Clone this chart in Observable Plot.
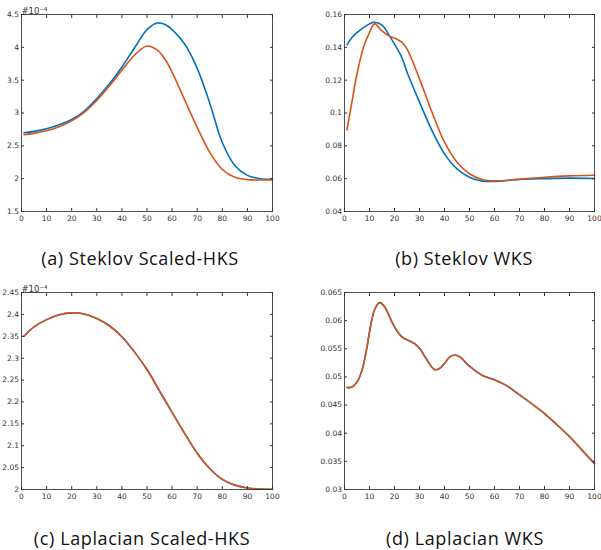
<!DOCTYPE html>
<html><head><meta charset="utf-8">
<script src="https://cdn.jsdelivr.net/npm/d3@7"></script>
<script src="https://cdn.jsdelivr.net/npm/@observablehq/plot@0.6"></script>
<style>
html,body{margin:0;padding:0;background:#fff;overflow:hidden}
#root{position:relative;width:601px;height:550px}
.panel{position:absolute}
.cap{position:absolute;font-family:"Open Sans",Lato,sans-serif;font-size:18px;letter-spacing:0.6px;line-height:20px;color:#111;white-space:nowrap;transform:translateX(-50%)}
</style></head><body><div id="root"></div>
<script>
// ---------- data ----------
const xTicks = [0,10,20,30,40,50,60,70,80,90,100];
const xTickLabels = ["0","10","20","30","40","50","60","70","80","90","100"];
const seriesNames = ["series 1","series 2"];
const seriesColors = ["#0072BD","#D95319"];

// (a) Steklov Scaled-HKS (values x 10^-4)
const aX = [1,5,10,15,20,25,30,35,40,45,50,54,57,60,65,70,75,80,85,90,95,100];
const aBlue = [2.70,2.72,2.76,2.82,2.90,3.03,3.22,3.44,3.70,3.99,4.27,4.37,4.35,4.27,4.05,3.68,3.15,2.55,2.20,2.05,2.00,1.99];
const aOrange = [2.67,2.69,2.73,2.79,2.88,3.01,3.19,3.41,3.65,3.88,4.02,3.96,3.83,3.62,3.20,2.78,2.40,2.14,2.02,1.985,1.98,1.98];
const aYTicks = [1.5,2,2.5,3,3.5,4,4.5];
const aYLabels = ["1.5","2","2.5","3","3.5","4","4.5"];

// (b) Steklov WKS
const bX = [1,3,5,8,10,12,15,18,20,23,25,30,35,40,45,50,55,60,70,80,90,100];
const bBlue = [0.1415,0.146,0.149,0.1525,0.1543,0.1553,0.1535,0.147,0.142,0.1335,0.125,0.1066,0.0893,0.0751,0.066,0.0609,0.0585,0.0583,0.0595,0.060,0.0603,0.0601];
const bOrange = [0.0897,0.107,0.1239,0.142,0.149,0.1543,0.150,0.1468,0.1456,0.143,0.139,0.1208,0.1005,0.0822,0.070,0.063,0.0595,0.0587,0.0597,0.0609,0.0617,0.0621];
const bYTicks = [0.04,0.06,0.08,0.1,0.12,0.14,0.16];
const bYLabels = ["0.04","0.06","0.08","0.1","0.12","0.14","0.16"];

// (c) Laplacian Scaled-HKS (values x 10^-4)
const cX = [1,5,10,15,20,25,30,35,40,45,50,55,60,65,70,75,80,85,90,95,100];
const cBlue = [2.350,2.3715,2.388,2.399,2.4035,2.401,2.3906,2.374,2.349,2.3144,2.274,2.225,2.176,2.128,2.083,2.048,2.023,2.010,2.0035,2.0012,2.0005];
const cOrange = [2.350,2.3715,2.388,2.399,2.4035,2.401,2.3906,2.374,2.349,2.3144,2.274,2.225,2.176,2.128,2.083,2.048,2.023,2.010,2.0035,2.0012,2.0005];
const cYTicks = [2,2.05,2.1,2.15,2.2,2.25,2.3,2.35,2.4,2.45];
const cYLabels = ["2","2.05","2.1","2.15","2.2","2.25","2.3","2.35","2.4","2.45"];

// (d) Laplacian WKS
const dX = [1,3,5,7,9,10,12,14,16,18,20,23,26,28,30,33,36,38,40,42,44,46,50,55,60,65,70,75,80,85,90,95,100];
const dBlue = [0.04812,0.0482,0.0491,0.0512,0.0553,0.0580,0.0619,0.0632,0.0625,0.0607,0.0589,0.0571,0.0564,0.0559,0.0551,0.0530,0.0513,0.0515,0.0524,0.0535,0.0539,0.0536,0.0519,0.0503,0.0495,0.0484,0.0468,0.0452,0.0435,0.0415,0.0394,0.0370,0.0346];
const dOrange = [0.04812,0.0482,0.0491,0.0512,0.0553,0.0580,0.0619,0.0632,0.0625,0.0607,0.0589,0.0571,0.0564,0.0559,0.0551,0.0530,0.0513,0.0515,0.0524,0.0535,0.0539,0.0536,0.0519,0.0503,0.0495,0.0484,0.0468,0.0452,0.0435,0.0415,0.0394,0.0370,0.0346];
const dYTicks = [0.03,0.035,0.04,0.045,0.05,0.055,0.06,0.065];
const dYLabels = ["0.03","0.035","0.04","0.045","0.05","0.055","0.06","0.065"];

const captions = ["(a) Steklov Scaled-HKS","(b) Steklov WKS","(c) Laplacian Scaled-HKS","(d) Laplacian WKS"];
const exponentLabel = "#10\u207B\u2074";

// ---------- drawing ----------
const root = document.getElementById("root");
const FONT = "DejaVu Sans";
const FS = 7.5;

function panel({left, top, width, mLeft, mRight, xs, blue, orange, yTicks, yLabels, exponent}) {
  const rows = [];
  xs.forEach((x, i) => rows.push({x, y: blue[i], s: seriesNames[0]}));
  xs.forEach((x, i) => rows.push({x, y: orange[i], s: seriesNames[1]}));
  const yDomain = [yTicks[0], yTicks[yTicks.length - 1]];
  const yFmt = v => yLabels[yTicks.indexOf(v)] ?? "";
  const xFmt = v => xTickLabels[xTicks.indexOf(v)] ?? "";
  const marks = [
    Plot.line(rows, {x: "x", y: "y", z: "s", stroke: "s", strokeWidth: 1.6, curve: "catmull-rom"}),
    Plot.frame({stroke: "#262626", strokeWidth: 0.8}),
    Plot.axisX({anchor: "bottom", ticks: xTicks, tickSize: -3, tickPadding: 7, tickFormat: xFmt, label: null, fontSize: FS}),
    Plot.axisX({anchor: "top", ticks: xTicks, tickSize: -3, tickFormat: () => "", label: null}),
    Plot.axisY({anchor: "left", ticks: yTicks, tickSize: -3, tickPadding: 5.5, tickFormat: yFmt, label: null, fontSize: FS}),
    Plot.axisY({anchor: "right", ticks: yTicks, tickSize: -3, tickFormat: () => "", label: null})
  ];
  if (exponent) {
    marks.push(Plot.text([exponent], {frameAnchor: "top-left", text: d => d, textAnchor: "start", lineAnchor: "bottom", dy: -1, dx: 0, fontSize: 8.5}));
  }
  const chart = Plot.plot({
    width, height: 230,
    marginLeft: mLeft, marginRight: mRight, marginTop: 14, marginBottom: 19,
    style: {fontFamily: FONT, fontSize: FS + "px", color: "#333", background: "transparent", overflow: "visible"},
    x: {domain: [0, 100]},
    y: {domain: yDomain},
    color: {type: "ordinal", domain: seriesNames, range: seriesColors},
    marks
  });
  chart.classList.add("panel");
  chart.style.left = left + "px";
  chart.style.top = top + "px";
  root.appendChild(chart);
}

panel({left: 0, top: 0, width: 300, mLeft: 21, mRight: 28, xs: aX, blue: aBlue, orange: aOrange, yTicks: aYTicks, yLabels: aYLabels, exponent: exponentLabel});
panel({left: 300, top: 0, width: 301, mLeft: 44, mRight: 7, xs: bX, blue: bBlue, orange: bOrange, yTicks: bYTicks, yLabels: bYLabels});
panel({left: 0, top: 278, width: 300, mLeft: 21, mRight: 28, xs: cX, blue: cBlue, orange: cOrange, yTicks: cYTicks, yLabels: cYLabels, exponent: exponentLabel});
panel({left: 300, top: 278, width: 301, mLeft: 44, mRight: 7, xs: dX, blue: dBlue, orange: dOrange, yTicks: dYTicks, yLabels: dYLabels});

const capPos = [[140, 248], [464, 248], [142, 528], [465, 528]];
captions.forEach((t, i) => {
  const d = document.createElement("div");
  d.className = "cap";
  d.textContent = t;
  d.style.left = capPos[i][0] + "px";
  d.style.top = capPos[i][1] + "px";
  root.appendChild(d);
});
</script></body></html>
